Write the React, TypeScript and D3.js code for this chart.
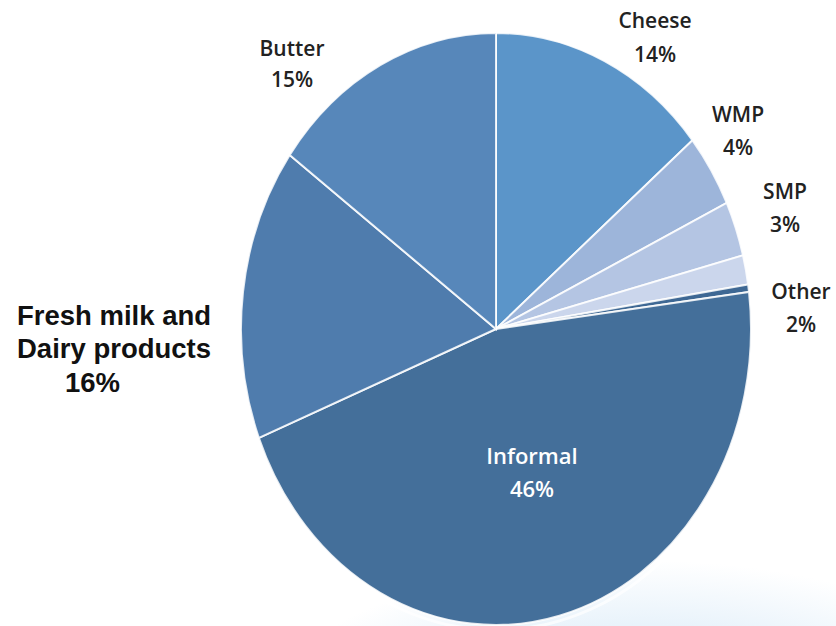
import React from "react";
import * as d3 from "d3";

const categories = ["Cheese", "WMP", "SMP", "Other", "", "Informal", "Fresh milk and Dairy products", "Butter"];
const shares = [14, 4, 3, 1.6, 0.4, 46, 16, 15];
const shareLabels = ["14%", "4%", "3%", "2%", "", "46%", "16%", "15%"];
const sliceColors = ["#5b95c9", "#9db5da", "#b4c5e3", "#cbd6ec", "#3e6894", "#446f9a", "#4f7cad", "#5787ba"];

const W = 836, H = 626;
const cx = 496, cy = 329, rx = 255, ry = 296;

type LabelLayout = { lines: string[]; x: number; y: number; anchor: string; size: number; weight: string; color: string; family: string; lh: number };

export default function App() {
  const data = categories.map((c, i) => ({ c, v: shares[i], p: shareLabels[i], color: sliceColors[i] }));
  const pie = d3.pie<any>().sort(null).value((d: any) => d.v);
  const arcs = pie(data);
  const arc = d3.arc<any>().innerRadius(0).outerRadius(rx);

  const calibri = "'Open Sans', 'Noto Sans', sans-serif";
  const layouts: Record<string, LabelLayout> = {
    Cheese: { lines: ["Cheese"], x: 655, y: 28, anchor: "middle", size: 21, weight: "600", color: "#222", family: calibri, lh: 34 },
    WMP: { lines: ["WMP"], x: 738, y: 122, anchor: "middle", size: 21, weight: "600", color: "#222", family: calibri, lh: 33 },
    SMP: { lines: ["SMP"], x: 785, y: 199, anchor: "middle", size: 21, weight: "600", color: "#222", family: calibri, lh: 33 },
    Other: { lines: ["Other"], x: 801, y: 299, anchor: "middle", size: 21, weight: "600", color: "#222", family: calibri, lh: 33 },
    Informal: { lines: ["Informal"], x: 532, y: 464, anchor: "middle", size: 22, weight: "600", color: "#ffffff", family: calibri, lh: 33 },
    Butter: { lines: ["Butter"], x: 292, y: 56, anchor: "middle", size: 21, weight: "600", color: "#222", family: calibri, lh: 31 },
    "Fresh milk and Dairy products": { lines: ["Fresh milk and", "Dairy products"], x: 17, y: 325, anchor: "start", size: 27.5, weight: "bold", color: "#111", family: "'Liberation Sans', Arial, sans-serif", lh: 33 },
  };

  return (
    <svg width={W} height={H} style={{ position: "absolute", left: 0, top: 0, background: "#fff" }}>
      <defs>
        <radialGradient id="bg" cx="640" cy="720" r="380" gradientUnits="userSpaceOnUse"
          gradientTransform="translate(640,720) scale(1,0.42) translate(-640,-720)">
          <stop offset="0" stopColor="#d4e7f6" />
          <stop offset="0.6" stopColor="#e9f3fb" />
          <stop offset="1" stopColor="#ffffff" />
        </radialGradient>
      </defs>
      <rect x={0} y={0} width={W} height={H} fill="url(#bg)" />
      <ellipse cx={cx} cy={cy + 2} rx={rx + 4} ry={ry + 3} fill="none" stroke="#ffffff" strokeWidth={3} opacity={0.7} />
      <g transform={`translate(${cx},${cy}) scale(1,${ry / rx})`}>
        {arcs.map((a, i) => (
          <path key={i} d={arc(a) as string} fill={a.data.color} stroke="#ffffff" strokeOpacity={0.85} strokeWidth={2} style={{ vectorEffect: "non-scaling-stroke" } as any} />
        ))}
      </g>
      {arcs.map((a, i) => {
        const L = layouts[a.data.c];
        if (!L) return null;
        const lines = [...L.lines];
        return (
          <g key={"l" + i} fontFamily={L.family} fontSize={L.size} fontWeight={L.weight} fill={L.color}>
            {lines.map((t, j) => (
              <text key={j} x={L.x} y={L.y + j * L.lh} textAnchor={L.anchor}>{t}</text>
            ))}
            <text
              x={L.anchor === "start" ? L.x + 48 : L.x}
              y={L.y + lines.length * L.lh + (L.anchor === "start" ? 1 : 0)}
              textAnchor={L.anchor}
            >{a.data.p}</text>
          </g>
        );
      })}
    </svg>
  );
}
